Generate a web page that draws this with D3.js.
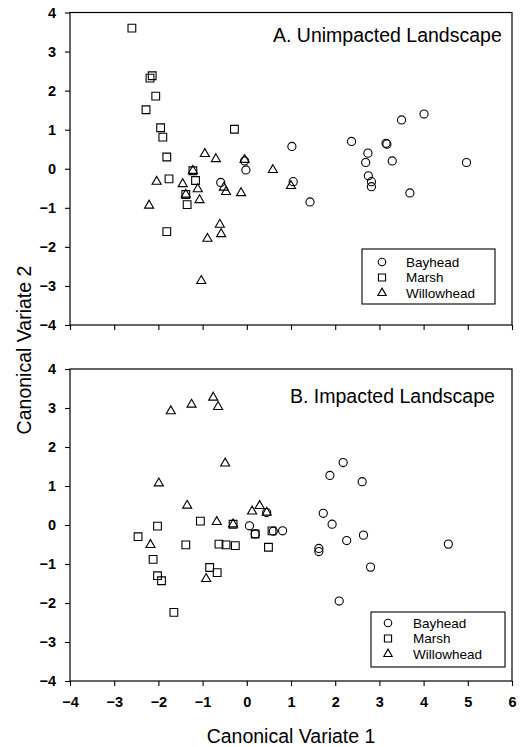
<!DOCTYPE html>
<html>
<head>
<meta charset="utf-8">
<script src="https://cdn.jsdelivr.net/npm/d3@7"></script>
<style>
  html, body { margin: 0; padding: 0; background: #fff; }
  svg { display: block; }
  text { font-family: "Liberation Sans", Arial, Helvetica, sans-serif; fill: #000; }
</style>
</head>
<body>
<svg id="chart" width="526" height="747"></svg>
<script>
// ---------- DATA ----------
const xTicks = [-4, -3, -2, -1, 0, 1, 2, 3, 4, 5, 6];
const yTicks = [-4, -3, -2, -1, 0, 1, 2, 3, 4];
const seriesNames = ["Bayhead", "Marsh", "Willowhead"];
const panelTitles = ["A. Unimpacted Landscape", "B. Impacted Landscape"];

// Panel A: Unimpacted landscape  [CV1, CV2]
const unimpactedBayhead = [
  [-0.05, 0.20], [-0.02, -0.03], [-0.59, -0.35], [1.02, 0.57], [1.05, -0.33],
  [1.43, -0.85], [2.37, 0.70], [3.15, 0.65], [3.17, 0.63], [2.74, 0.40],
  [2.69, 0.16], [3.29, 0.20], [4.01, 1.40], [3.50, 1.25], [4.97, 0.16],
  [2.75, -0.18], [2.82, -0.33], [2.82, -0.46], [3.69, -0.62]
];
const unimpactedMarsh = [
  [-2.60, 3.60], [-2.19, 2.32], [-2.14, 2.38], [-2.06, 1.86], [-2.28, 1.51],
  [-1.95, 1.05], [-1.90, 0.81], [-1.81, 0.30], [-0.28, 1.01], [-1.22, -0.05],
  [-1.76, -0.26], [-1.16, -0.30], [-1.38, -0.66], [-1.35, -0.92], [-1.81, -1.61]
];
const unimpactedWillowhead = [
  [-0.95, 0.38], [-0.70, 0.25], [-0.05, 0.23], [-1.22, -0.05], [-2.04, -0.33],
  [-1.45, -0.39], [-1.11, -0.52], [-1.38, -0.66], [-1.07, -0.80], [-2.21, -0.94],
  [-0.52, -0.48], [-0.47, -0.59], [-0.13, -0.62], [-0.61, -1.43], [-0.58, -1.67],
  [-0.89, -1.79], [-1.03, -2.87], [0.59, -0.03], [1.00, -0.44]
];

// Panel B: Impacted landscape  [CV1, CV2]
const impactedBayhead = [
  [2.18, 1.60], [1.88, 1.27], [2.61, 1.11], [1.73, 0.30], [1.93, 0.02],
  [2.26, -0.40], [2.64, -0.26], [4.56, -0.49], [1.63, -0.60], [1.63, -0.68],
  [2.80, -1.08], [2.09, -1.95], [0.45, 0.32], [0.06, -0.02], [0.19, -0.23],
  [0.81, -0.15], [0.60, -0.16]
];
const impactedMarsh = [
  [-2.02, -0.03], [-2.46, -0.30], [-2.12, -0.88], [-2.02, -1.30], [-1.93, -1.43],
  [-1.65, -2.24], [-1.38, -0.51], [-1.05, 0.10], [-0.31, 0.02], [0.19, -0.23],
  [-0.63, -0.49], [-0.47, -0.51], [-0.26, -0.53], [-0.84, -1.09], [-0.67, -1.22],
  [0.49, -0.57], [0.57, -0.15]
];
const impactedWillowhead = [
  [-1.72, 2.92], [-1.25, 3.09], [-0.76, 3.27], [-0.65, 3.03], [-0.49, 1.58],
  [-1.99, 1.07], [-1.35, 0.50], [-2.18, -0.51], [-0.68, 0.08], [-0.31, 0.02],
  [0.12, 0.35], [0.29, 0.49], [0.45, 0.32], [-0.92, -1.38]
];

// ---------- DRAWING ----------
const svg = d3.select("#chart");
const symbolTypes = [d3.symbolCircle, d3.symbolSquare, d3.symbolTriangle];
const symbolSizes = [52, 60, 36];

const x = d3.scaleLinear().domain([-4, 6]).range([70, 512]);

const panels = [
  { title: panelTitles[0], top: 12.5, bottom: 325, titleX: 273, titleY: 42,
    legend: { x: 362, y: 249, w: 133, h: 55, symX: 382, textX: 406, rows: [262, 277.5, 293] },
    series: [unimpactedBayhead, unimpactedMarsh, unimpactedWillowhead], labels: false },
  { title: panelTitles[1], top: 369, bottom: 681, titleX: 290, titleY: 403,
    legend: { x: 371, y: 612, w: 134, h: 55, symX: 388, textX: 413, rows: [623, 638.5, 654] },
    series: [impactedBayhead, impactedMarsh, impactedWillowhead], labels: true }
];

panels.forEach(p => {
  const y = d3.scaleLinear().domain([-4, 4]).range([p.bottom, p.top]);
  const g = svg.append("g");

  // frame
  g.append("rect")
    .attr("x", x(-4)).attr("y", y(4))
    .attr("width", x(6) - x(-4)).attr("height", y(-4) - y(4))
    .attr("fill", "none").attr("stroke", "#000").attr("stroke-width", 1.2);

  // y axis
  const ya = g.append("g").attr("transform", `translate(${x(-4)},0)`)
    .call(d3.axisLeft(y).tickValues(yTicks).tickSize(5).tickPadding(9).tickFormat(d3.format("d")));
  ya.select(".domain").remove();
  ya.selectAll("line").attr("stroke", "#000").attr("stroke-width", 1.1);
  ya.selectAll("text").style("font-size", "14.5px").style("font-weight", "bold")
    .style("font-family", '"Liberation Sans", Arial, sans-serif');

  // x axis
  const xa = g.append("g").attr("transform", `translate(0,${y(-4)})`)
    .call(d3.axisBottom(x).tickValues(xTicks).tickSize(5).tickPadding(11)
      .tickFormat(p.labels ? d3.format("d") : () => ""));
  xa.select(".domain").remove();
  xa.selectAll("line").attr("stroke", "#000").attr("stroke-width", 1.1);
  xa.selectAll("text").style("font-size", "14.5px").style("font-weight", "bold")
    .style("font-family", '"Liberation Sans", Arial, sans-serif');

  // title
  g.append("text").attr("x", p.titleX).attr("y", p.titleY)
    .style("font-size", "19.5px").text(p.title);

  // points
  p.series.forEach((data, i) => {
    const sym = d3.symbol().type(symbolTypes[i]).size(symbolSizes[i]);
    g.append("g").selectAll("path").data(data).join("path")
      .attr("transform", d => `translate(${x(d[0])},${y(d[1])})`)
      .attr("d", sym)
      .attr("fill", "none").attr("stroke", "#000").attr("stroke-width", 1.1);
  });

  // legend
  const L = p.legend;
  g.append("rect").attr("x", L.x).attr("y", L.y).attr("width", L.w).attr("height", L.h)
    .attr("fill", "#fff").attr("stroke", "#000").attr("stroke-width", 1.1);
  seriesNames.forEach((name, i) => {
    const sym = d3.symbol().type(symbolTypes[i]).size(symbolSizes[i] * 0.85);
    g.append("path").attr("transform", `translate(${L.symX},${L.rows[i]})`)
      .attr("d", sym).attr("fill", "none").attr("stroke", "#000").attr("stroke-width", 1.1);
    g.append("text").attr("x", L.textX).attr("y", L.rows[i]).attr("dy", "0.35em")
      .style("font-size", "13.5px").text(name);
  });
});

// axis titles
svg.append("text").attr("x", x(1)).attr("y", 743).attr("text-anchor", "middle")
  .style("font-size", "19.5px").text("Canonical Variate 1");
svg.append("text").attr("transform", "translate(31,350) rotate(-90)").attr("text-anchor", "middle")
  .style("font-size", "19.5px").text("Canonical Variate 2");
</script>
</body>
</html>
